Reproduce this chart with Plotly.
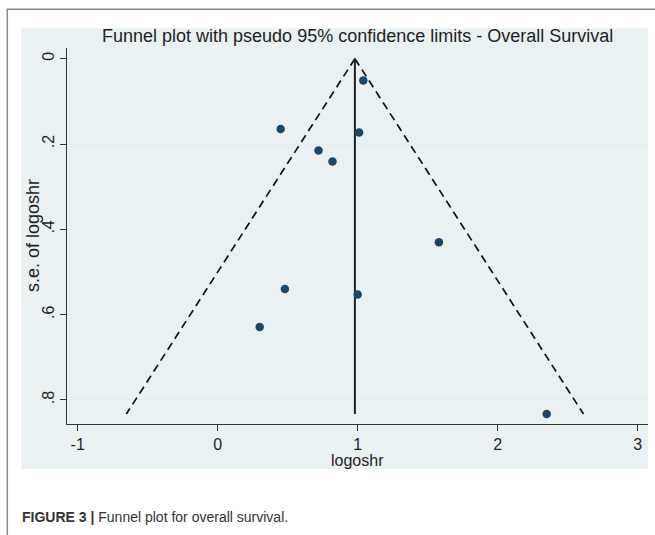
import plotly.graph_objects as go

# ---- data ----
logoshr = [1.04, 0.45, 1.01, 0.72, 0.82, 1.58, 0.48, 1.00, 0.30, 2.35]
se_logoshr = [0.051, 0.165, 0.173, 0.215, 0.241, 0.430, 0.540, 0.553, 0.629, 0.833]
theta = 0.98  # pooled estimate
z95 = 1.96
x_ticks = [-1, 0, 1, 2, 3]
x_ticktext = ["-1", "0", "1", "2", "3"]
y_ticks = [0, 0.2, 0.4, 0.6, 0.8]
y_ticktext = ["0", ".2", ".4", ".6", ".8"]

title_text = "Funnel plot with pseudo 95% confidence limits - Overall Survival"
xtitle = "logoshr"
ytitle = "s.e. of logoshr"
caption = "<b>FIGURE 3 |</b> Funnel plot for overall survival."

# ---- geometry (pixels) ----
W, H = 655, 535
L, R, T, B = 67, 648, 48, 424
PW, PH = R - L, B - T


def px(x):
    return (x - L) / PW


def py(y):
    return (B - y) / PH


se_max = max(se_logoshr)
se_line = [0, se_max]
left_lim = [theta - z95 * s for s in se_line]
right_lim = [theta + z95 * s for s in se_line]

FONT = "Liberation Sans, Arial, sans-serif"
TXT = "#1e1e1e"
NAVY = "#1a476f"
REGION = "#eaf1f3"

fig = go.Figure()

fig.add_trace(go.Scatter(x=left_lim, y=se_line, mode="lines",
                         line=dict(color="#111111", width=1.7, dash="8px,5px"),
                         hoverinfo="skip", showlegend=False))
fig.add_trace(go.Scatter(x=right_lim, y=se_line, mode="lines",
                         line=dict(color="#111111", width=1.7, dash="8px,5px"),
                         hoverinfo="skip", showlegend=False))
fig.add_trace(go.Scatter(x=[theta, theta], y=se_line, mode="lines",
                         line=dict(color="#222222", width=2),
                         hoverinfo="skip", showlegend=False))
fig.add_trace(go.Scatter(x=logoshr, y=se_logoshr, mode="markers",
                         marker=dict(color=NAVY, size=8.5, line=dict(width=0)),
                         showlegend=False))

# graph region background and outer frame
fig.add_shape(type="rect", xref="paper", yref="paper",
              x0=px(21), x1=px(648), y0=py(469), y1=py(28.3),
              fillcolor=REGION, line=dict(width=0), layer="below")
fig.add_shape(type="path", xref="paper", yref="paper",
              path=f"M {px(7.3)} {py(560)} L {px(7.3)} {py(9.3)} L {px(670)} {py(9.3)}",
              line=dict(color="#8a8a8a", width=1.5), layer="below")

fig.add_annotation(text=title_text, xref="paper", yref="paper",
                   x=px(357), y=py(35.5), xanchor="center", yanchor="middle",
                   showarrow=False, font=dict(family=FONT, size=18, color=TXT))
fig.add_annotation(text=xtitle, xref="paper", yref="paper",
                   x=px(357), y=py(460.5), xanchor="center", yanchor="middle",
                   showarrow=False, font=dict(family=FONT, size=16, color=TXT))
fig.add_annotation(text=ytitle, xref="paper", yref="paper", textangle=-90,
                   x=px(33), y=py(236), xanchor="center", yanchor="middle",
                   showarrow=False, font=dict(family=FONT, size=18, color=TXT))
fig.add_annotation(text=caption, xref="paper", yref="paper",
                   x=px(20), y=py(517), xanchor="left", yanchor="middle",
                   showarrow=False, font=dict(family=FONT, size=14, color="#333333"))

fig.update_xaxes(range=[(L - 217.7) / 140, (R - 217.7) / 140],
                 tickvals=x_ticks, ticktext=x_ticktext,
                 showgrid=False, zeroline=False,
                 showline=True, linecolor="#333333", linewidth=1.2,
                 ticks="outside", ticklen=6, tickcolor="#333333", tickwidth=1.2,
                 tickfont=dict(family=FONT, size=16, color=TXT))
fig.update_yaxes(range=[(B - 58.7) / 426.6, (T - 58.7) / 426.6],
                 tickvals=y_ticks, ticktext=y_ticktext, tickangle=-90,
                 showgrid=True, gridcolor="#e3ecef", gridwidth=1, zeroline=False,
                 showline=True, linecolor="#333333", linewidth=1.2,
                 ticks="outside", ticklen=6, tickcolor="#333333", tickwidth=1.2,
                 tickfont=dict(family=FONT, size=16, color=TXT))

fig.update_layout(width=W, height=H, autosize=False,
                  margin=dict(l=L, r=W - R, t=T, b=H - B),
                  paper_bgcolor="white", plot_bgcolor="white",
                  font=dict(family=FONT, color=TXT))

fig.write_html("out.html")
